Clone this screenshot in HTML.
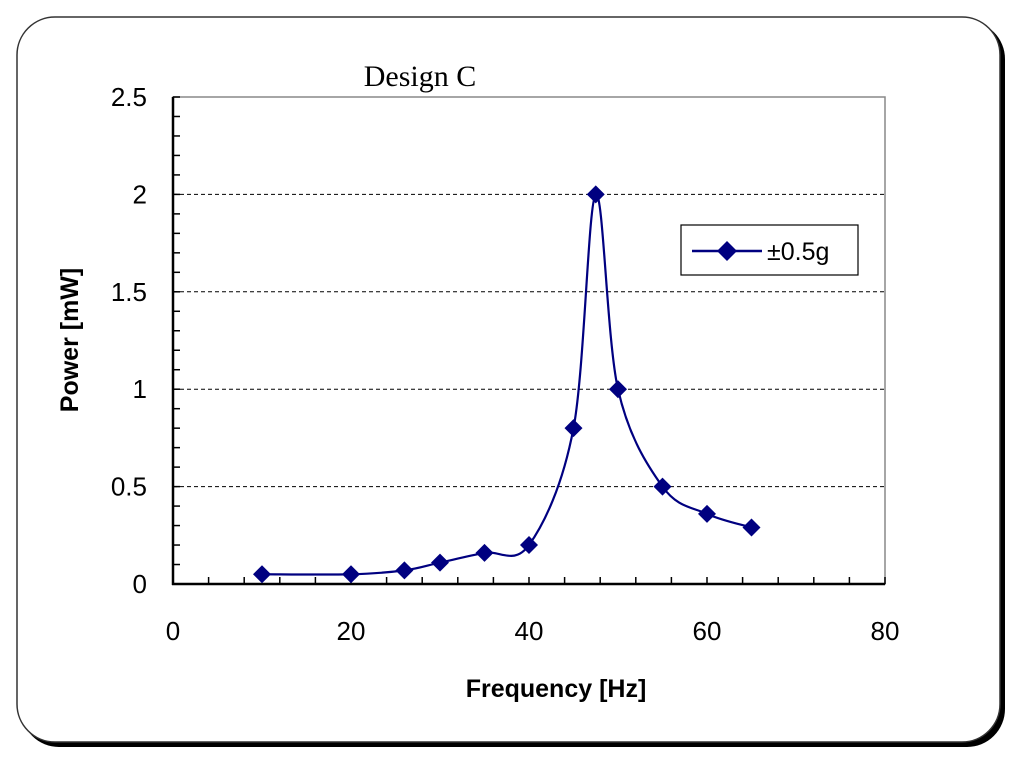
<!DOCTYPE html>
<html><head><meta charset="utf-8"><style>
body{margin:0;background:#fff;width:1024px;height:764px;overflow:hidden}
svg{display:block}
text{font-family:"Liberation Sans",Arial,sans-serif}
</style></head><body>
<svg id="c" width="1024" height="764">
<rect x="21" y="21" width="984" height="726" rx="38" fill="#000"/>
<rect x="17" y="17" width="983" height="725" rx="38" fill="#fff" stroke="#333" stroke-width="1.5"/>
<text x="420" y="86" font-size="30" text-anchor="middle" style="font-family:'Liberation Serif',serif">Design C</text>
<rect x="173" y="97" width="712" height="487" fill="#fff" stroke="#888" stroke-width="1.5"/>
<g id="grid"></g><g id="axes"></g><g id="series"></g>
<text x="556" y="697" font-size="25" font-weight="bold" text-anchor="middle">Frequency [Hz]</text>
<text transform="translate(78,340) rotate(-90)" font-size="25" font-weight="bold" text-anchor="middle">Power [mW]</text>
<g>
<rect x="681" y="225" width="177" height="50" fill="#fff" stroke="#000" stroke-width="1.2"/>
<line x1="692" y1="251" x2="762" y2="251" stroke="#000080" stroke-width="2.5"/>
<path d="M727 241 L737 251 L727 261 L717 251Z" fill="#000080"/>
<text x="767" y="260" font-size="25">±0.5g</text>
</g>
</svg>
<script>
const freqs=[10,20,26,30,35,40,45,47.5,50,55,60,65];
const power=[0.05,0.05,0.07,0.11,0.16,0.2,0.8,2.0,1.0,0.5,0.36,0.29];
const xTicks=[0,20,40,60,80];
const yTicks=[0,0.5,1,1.5,2,2.5];
const yLabels=["0","0.5","1","1.5","2","2.5"];
const X=v=>173+v*(712/80), Y=v=>584-v*(487/2.5);
const NS="http://www.w3.org/2000/svg";
function mk(tag,at,parent){const e=document.createElementNS(NS,tag);for(const k in at)e.setAttribute(k,at[k]);document.getElementById(parent).appendChild(e);return e;}
yTicks.forEach((t,i)=>{
 if(t>0&&t<2.5){const g=mk('line',{x1:173,x2:885,y1:Y(t),y2:Y(t),stroke:'#000','stroke-width':1,'stroke-dasharray':'4,3'},'grid');
 
 }
 const l=mk('text',{x:147,y:Y(t)+9,'font-size':26,'text-anchor':'end'},'axes');l.textContent=yLabels[i];
 
 
});
for(let v=0;v<=2.5001;v+=0.1){const t=mk('line',{x1:173,x2:180,y1:Y(v),y2:Y(v),stroke:'#000','stroke-width':1.5},'axes');
 
 }
for(let v=0;v<=80;v+=4){const t=mk('line',{x1:X(v),x2:X(v),y1:584,y2:577,stroke:'#000','stroke-width':1.5},'axes');
 
 }
xTicks.forEach(t=>{const l=mk('text',{x:X(t),y:640,'font-size':26,'text-anchor':'middle'},'axes');l.textContent=t;
 
 });
const a1=mk('line',{x1:173,x2:173,y1:97,y2:585,stroke:'#000','stroke-width':2.5},'axes');


const a2=mk('line',{x1:172,x2:885,y1:584,y2:584,stroke:'#000','stroke-width':2.5},'axes');


const P=freqs.map((f,i)=>[X(f),Y(power[i])]);
let d=`M${P[0][0]} ${P[0][1]}`;
for(let i=0;i<P.length-1;i++){const p0=P[Math.max(0,i-1)],p1=P[i],p2=P[i+1],p3=P[Math.min(P.length-1,i+2)];const k=0.5/3;
 d+=` C${p1[0]+(p2[0]-p0[0])*k} ${p1[1]+(p2[1]-p0[1])*k} ${p2[0]-(p3[0]-p1[0])*k} ${p2[1]-(p3[1]-p1[1])*k} ${p2[0]} ${p2[1]}`;}
const ln=mk('path',{d:d,fill:'none',stroke:'#000080','stroke-width':2.2},'series');


P.forEach(p=>{const m=mk('path',{d:`M${p[0]} ${p[1]-9}L${p[0]+9} ${p[1]}L${p[0]} ${p[1]+9}L${p[0]-9} ${p[1]}Z`,fill:'#000080'},'series');
 
 });
</script>
</body></html>
